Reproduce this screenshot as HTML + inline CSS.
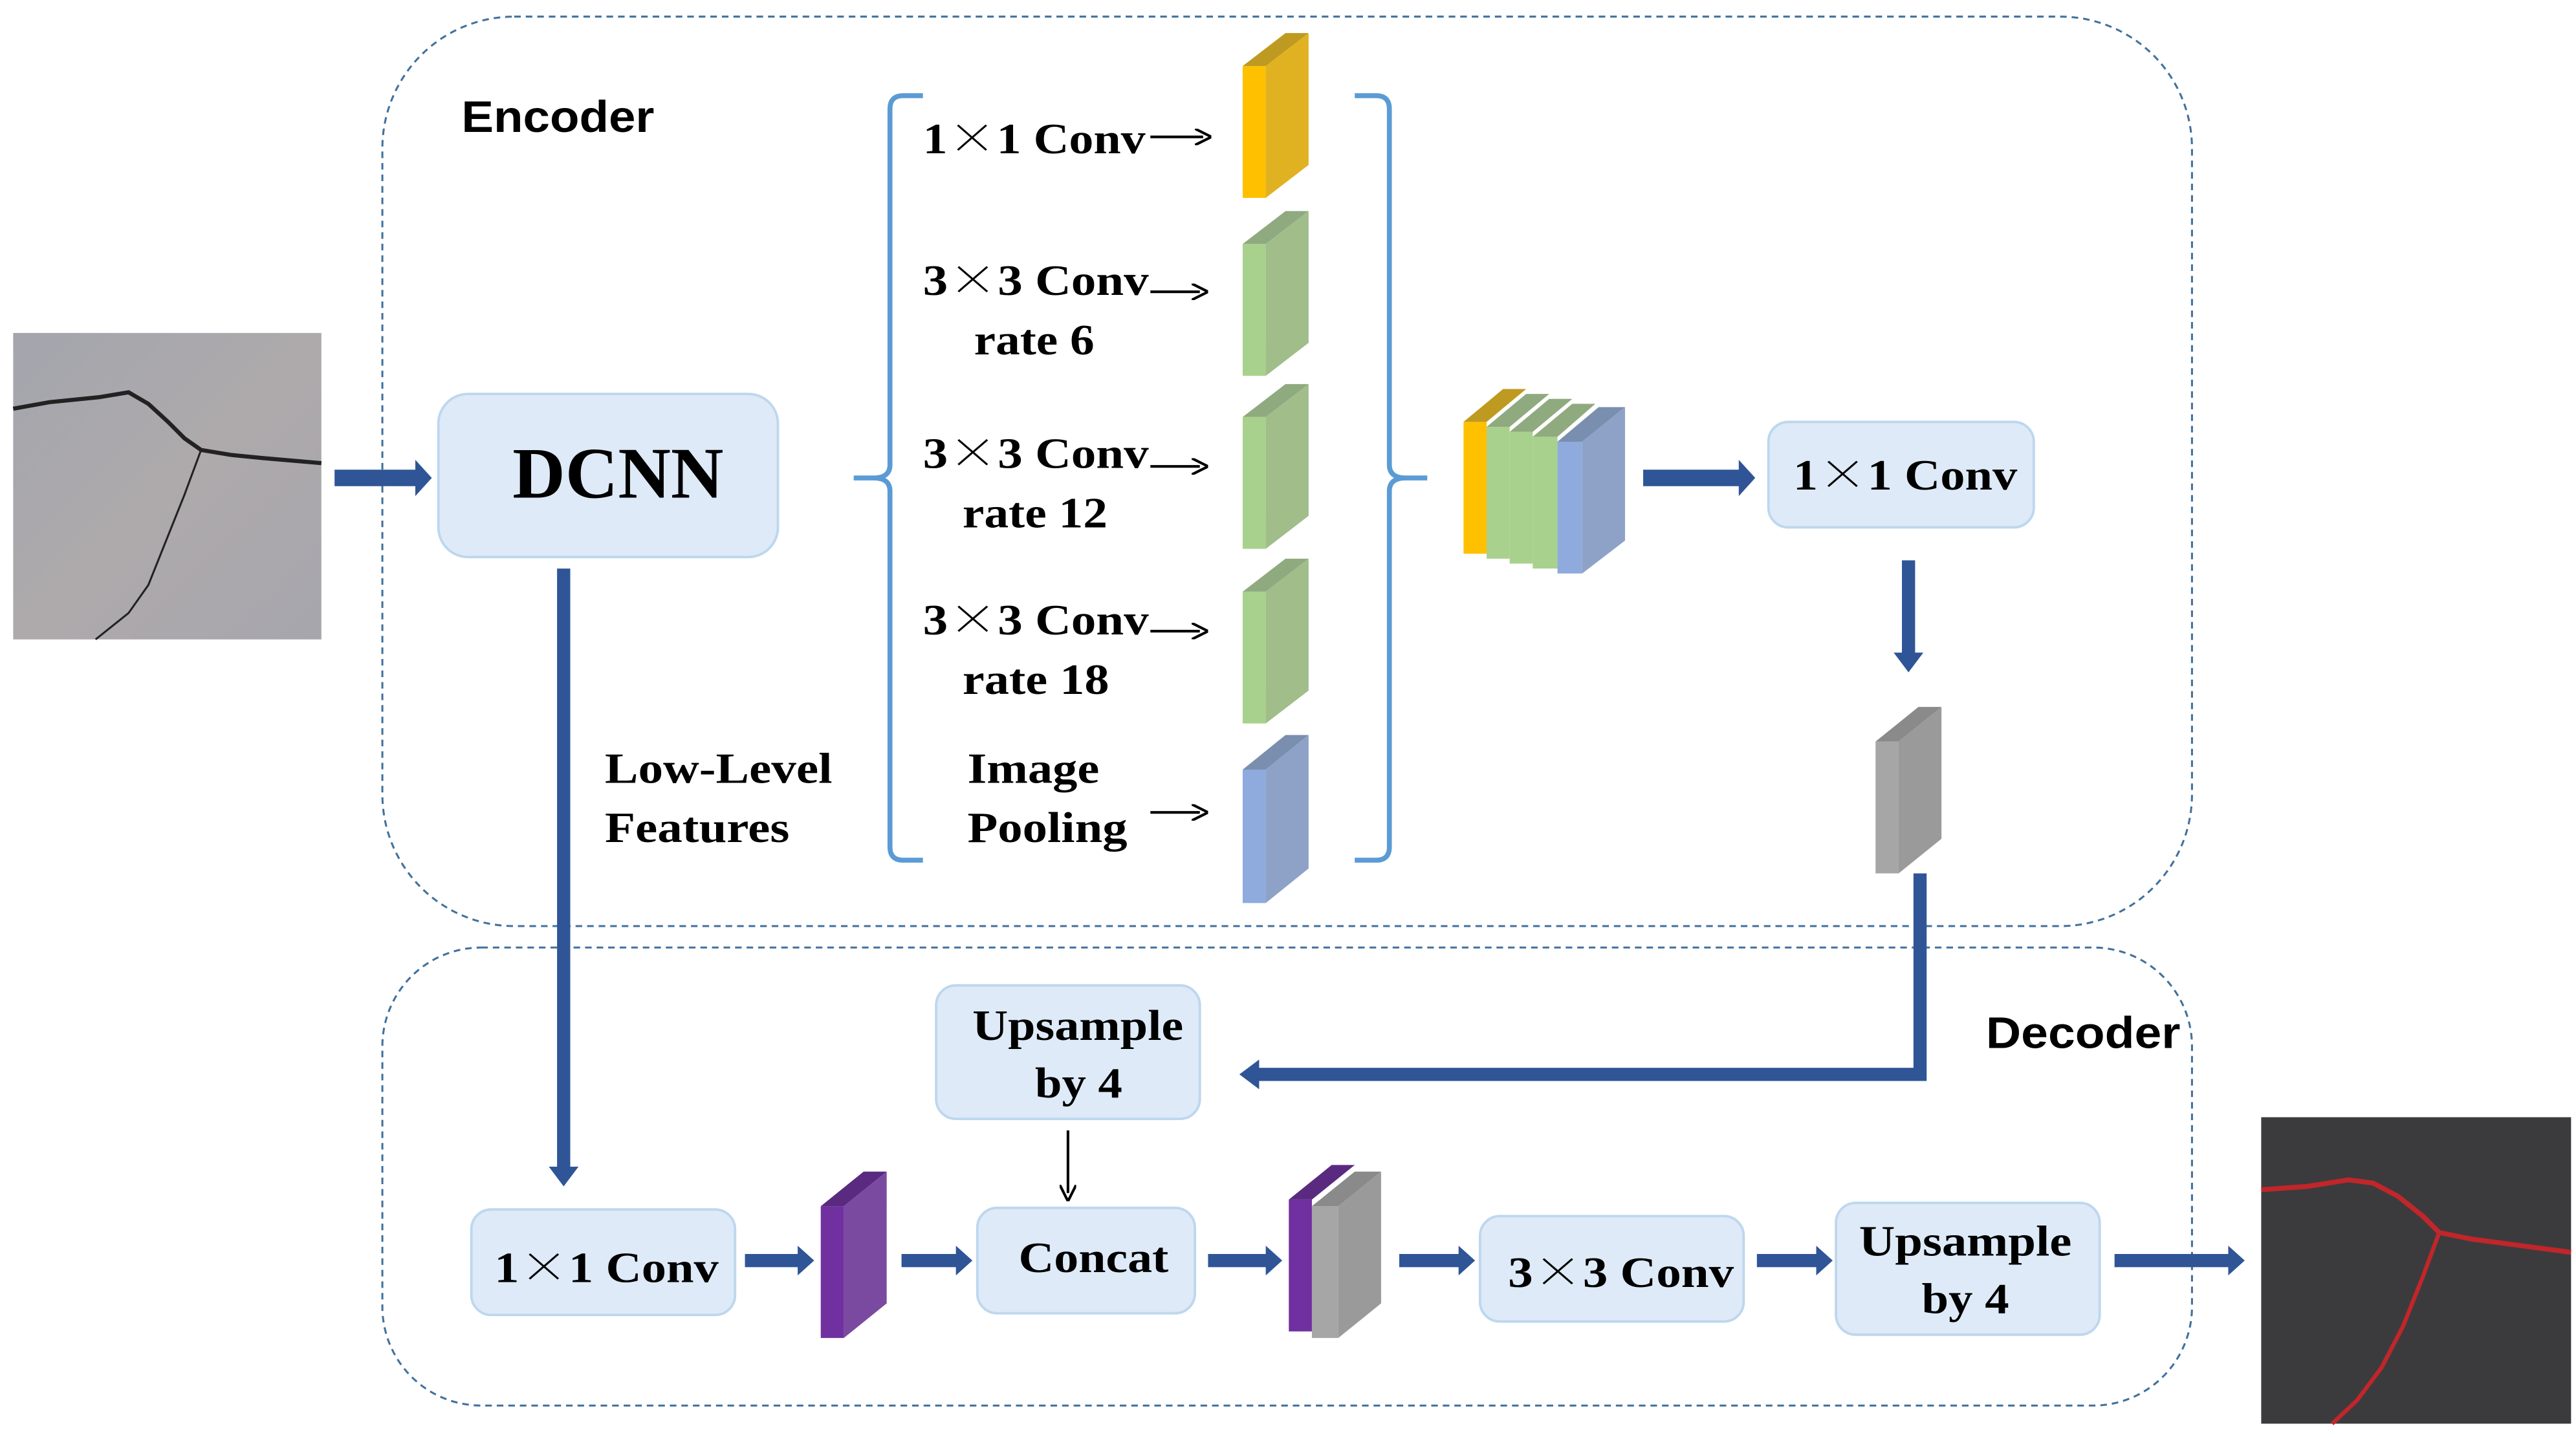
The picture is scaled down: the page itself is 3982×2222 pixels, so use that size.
<!DOCTYPE html>
<html><head><meta charset="utf-8"><style>
html,body{margin:0;padding:0;background:#fff;}
svg{display:block;}
.t{font-family:"Liberation Serif","Noto Serif CJK SC",serif;font-weight:bold;fill:#000;}
.s{font-family:"Liberation Sans",sans-serif;font-weight:bold;fill:#000;}
.x{font-family:"Noto Serif CJK SC",serif;font-weight:normal;}
.box{fill:#deeaf7;stroke:#bdd7ee;stroke-width:1.5;}
</style></head><body>
<svg width="3982" height="2222" viewBox="0 0 1563 872" xmlns="http://www.w3.org/2000/svg">
<defs>
<marker id="ah" markerWidth="10" markerHeight="10" refX="5" refY="5" orient="auto" markerUnits="userSpaceOnUse"><path d="M0,0 L10,5 L0,10" fill="none" stroke="#000" stroke-width="1.6"/></marker>
<linearGradient id="stone" x1="0" y1="0" x2="1" y2="1"><stop offset="0" stop-color="#a3a5ad"/><stop offset="0.5" stop-color="#aeaaac"/><stop offset="1" stop-color="#a7a6ad"/></linearGradient>
</defs>
<rect x="232" y="10" width="1098" height="552" rx="80" fill="none" stroke="#41719c" stroke-width="1.2" stroke-dasharray="4,3"/>
<rect x="232" y="575" width="1098" height="278" rx="60" fill="none" stroke="#41719c" stroke-width="1.2" stroke-dasharray="4,3"/>
<text x="280" y="80" class="s" font-size="27" textLength="117" lengthAdjust="spacingAndGlyphs">Encoder</text>
<text x="1205" y="636" class="s" font-size="27" textLength="118" lengthAdjust="spacingAndGlyphs">Decoder</text>
<rect x="8" y="202" width="187" height="186" fill="url(#stone)"/>
<path d="M8,248 L30,244 L60,241 L78,238 L90,245 L102,256 L112,266 L122,273 L140,276 L160,278 L195,281" fill="none" stroke="#222" stroke-width="2.5"/>
<path d="M122,273 L112,300 L100,330 L90,355 L78,372 L68,380 L58,388" fill="none" stroke="#222" stroke-width="1.2"/>
<path d="M203,285 L252,285 L252,279 L262,290 L252,301 L252,295 L203,295 Z" fill="#2f5597"/>
<rect x="266" y="239" width="206" height="99" rx="18" class="box"/>
<text x="311" y="302" class="t" font-size="44" textLength="128" lengthAdjust="spacingAndGlyphs">DCNN</text>
<rect x="338" y="345" width="8" height="365" fill="#2f5597"/>
<path d="M333,708 L351,708 L342,720 Z" fill="#2f5597"/>
<text x="367" y="475" class="t" font-size="26" textLength="138" lengthAdjust="spacingAndGlyphs">Low-Level</text>
<text x="367" y="511" class="t" font-size="26" textLength="112" lengthAdjust="spacingAndGlyphs">Features</text>
<path d="M560,58 L548,58 Q540,58 540,66 L540,282 Q540,290 530,290 L518,290 M530,290 Q540,290 540,298 L540,514 Q540,522 548,522 L560,522" fill="none" stroke="#5b9bd5" stroke-width="3"/>
<path d="M822,58 L835,58 Q843,58 843,66 L843,282 Q843,290 853,290 L866,290 M853,290 Q843,290 843,298 L843,514 Q843,522 835,522 L822,522" fill="none" stroke="#5b9bd5" stroke-width="3"/>
<g class="t" font-size="26">
<text x="560" y="93" textLength="135" lengthAdjust="spacingAndGlyphs">1<tspan class="x">×</tspan>1 Conv</text>
<text x="560" y="179" textLength="137" lengthAdjust="spacingAndGlyphs">3<tspan class="x">×</tspan>3 Conv</text>
<text x="591" y="215" textLength="73" lengthAdjust="spacingAndGlyphs">rate 6</text>
<text x="560" y="284" textLength="137" lengthAdjust="spacingAndGlyphs">3<tspan class="x">×</tspan>3 Conv</text>
<text x="584" y="320" textLength="88" lengthAdjust="spacingAndGlyphs">rate 12</text>
<text x="560" y="385" textLength="137" lengthAdjust="spacingAndGlyphs">3<tspan class="x">×</tspan>3 Conv</text>
<text x="584" y="421" textLength="89" lengthAdjust="spacingAndGlyphs">rate 18</text>
<text x="587" y="475" textLength="80" lengthAdjust="spacingAndGlyphs">Image</text>
<text x="587" y="511" textLength="97" lengthAdjust="spacingAndGlyphs">Pooling</text>
</g>
<g stroke="#000" stroke-width="1.6" marker-end="url(#ah)">
<line x1="698" y1="83" x2="730" y2="83"/>
<line x1="698" y1="177" x2="728" y2="177"/>
<line x1="698" y1="283" x2="728" y2="283"/>
<line x1="698" y1="383" x2="728" y2="383"/>
<line x1="698" y1="493" x2="728" y2="493"/>
</g>
<g>
<polygon points="754,40 768,40 768,120 754,120" fill="#ffc000"/><polygon points="754,40 780,20 794,20 768,40" fill="#bf9a20"/><polygon points="768,40 794,20 794,100 768,120" fill="#e0b222"/>
<polygon points="754,148 768,148 768,228 754,228" fill="#a9d18e"/><polygon points="754,148 780,128 794,128 768,148" fill="#8faa7f"/><polygon points="768,148 794,128 794,208 768,228" fill="#a0bd8a"/>
<polygon points="754,253 768,253 768,333 754,333" fill="#a9d18e"/><polygon points="754,253 780,233 794,233 768,253" fill="#8faa7f"/><polygon points="768,253 794,233 794,313 768,333" fill="#a0bd8a"/>
<polygon points="754,359 768,359 768,439 754,439" fill="#a9d18e"/><polygon points="754,359 780,339 794,339 768,359" fill="#8faa7f"/><polygon points="768,359 794,339 794,419 768,439" fill="#a0bd8a"/>
<polygon points="754,467 768,467 768,548 754,548" fill="#8faadc"/><polygon points="754,467 780,446 794,446 768,467" fill="#7a8fb0"/><polygon points="768,467 794,446 794,527 768,548" fill="#8ea2c8"/>
</g>
<g>
<polygon points="888,256 902,256 902,336 888,336" fill="#ffc000"/><polygon points="888,256 912,236 926,236 902,256" fill="#bf9a20"/>
<polygon points="902,259 916,259 916,339 902,339" fill="#a9d18e"/><polygon points="902,259 926,239 940,239 916,259" fill="#8faa7f"/>
<polygon points="916,262 930,262 930,342 916,342" fill="#a9d18e"/><polygon points="916,262 940,242 954,242 930,262" fill="#8faa7f"/>
<polygon points="930,265 945,265 945,345 930,345" fill="#a9d18e"/><polygon points="930,265 954,245 968,245 945,265" fill="#8faa7f"/>
<polygon points="945,268 960,268 960,348 945,348" fill="#8faadc"/><polygon points="945,268 970,247 986,247 960,268" fill="#7a8fb0"/>
<polygon points="960,268 986,247 986,328 960,348" fill="#8ea2c8"/>
</g>
<path d="M997,285 L1055,285 L1055,279 L1065,290 L1055,301 L1055,295 L997,295 Z" fill="#2f5597"/>
<rect x="1073" y="256" width="161" height="64" rx="12" class="box"/>
<text x="1088" y="297" class="t" font-size="26" textLength="136" lengthAdjust="spacingAndGlyphs">1<tspan class="x">×</tspan>1 Conv</text>
<rect x="1154" y="340" width="8" height="58" fill="#2f5597"/><path d="M1149,396 L1167,396 L1158,408 Z" fill="#2f5597"/>
<polygon points="1138,450 1152,450 1152,530 1138,530" fill="#a6a6a6"/><polygon points="1138,450 1164,429 1178,429 1152,450" fill="#8a8a8a"/><polygon points="1152,450 1178,429 1178,509 1152,530" fill="#9a9a9a"/>
<path d="M1165,530 L1165,652 L762,652" fill="none" stroke="#2f5597" stroke-width="8"/>
<path d="M764,643 L764,661 L752,652 Z" fill="#2f5597"/>
<rect x="568" y="598" width="160" height="81" rx="12" class="box"/>
<text x="590" y="631" class="t" font-size="26" textLength="128" lengthAdjust="spacingAndGlyphs">Upsample</text>
<text x="628" y="666" class="t" font-size="26" textLength="53" lengthAdjust="spacingAndGlyphs">by 4</text>
<line x1="648" y1="686" x2="648" y2="724" stroke="#000" stroke-width="1.6" marker-end="url(#ah)"/>
<rect x="286" y="734" width="160" height="64" rx="12" class="box"/>
<text x="300" y="778" class="t" font-size="26" textLength="136" lengthAdjust="spacingAndGlyphs">1<tspan class="x">×</tspan>1 Conv</text>
<path d="M452,761 L484,761 L484,756 L494,765 L484,774 L484,769 L452,769 Z" fill="#2f5597"/>
<polygon points="498,732 512,732 512,812 498,812" fill="#7030a0"/><polygon points="498,732 524,711 538,711 512,732" fill="#5a2a80"/><polygon points="512,732 538,711 538,791 512,812" fill="#7a4aa0"/>
<path d="M547,761 L580,761 L580,756 L590,765 L580,774 L580,769 L547,769 Z" fill="#2f5597"/>
<rect x="593" y="733" width="132" height="64" rx="12" class="box"/>
<text x="618" y="772" class="t" font-size="26" textLength="91" lengthAdjust="spacingAndGlyphs">Concat</text>
<path d="M733,761 L768,761 L768,756 L778,765 L768,774 L768,769 L733,769 Z" fill="#2f5597"/>
<polygon points="782,728 796,728 796,808 782,808" fill="#7030a0"/><polygon points="782,728 808,707 822,707 796,728" fill="#5a2a80"/>
<polygon points="796,732 812,732 812,812 796,812" fill="#a6a6a6"/><polygon points="796,732 822,711 838,711 812,732" fill="#8a8a8a"/><polygon points="812,732 838,711 838,791 812,812" fill="#9a9a9a"/>
<path d="M849,761 L885,761 L885,756 L895,765 L885,774 L885,769 L849,769 Z" fill="#2f5597"/>
<rect x="898" y="738" width="160" height="64" rx="12" class="box"/>
<text x="915" y="781" class="t" font-size="26" textLength="137" lengthAdjust="spacingAndGlyphs">3<tspan class="x">×</tspan>3 Conv</text>
<path d="M1066,761 L1102,761 L1102,756 L1112,765 L1102,774 L1102,769 L1066,769 Z" fill="#2f5597"/>
<rect x="1114" y="730" width="160" height="80" rx="12" class="box"/>
<text x="1128" y="762" class="t" font-size="26" textLength="129" lengthAdjust="spacingAndGlyphs">Upsample</text>
<text x="1166" y="797" class="t" font-size="26" textLength="53" lengthAdjust="spacingAndGlyphs">by 4</text>
<path d="M1283,761 L1352,761 L1352,756 L1362,765 L1352,774 L1352,769 L1283,769 Z" fill="#2f5597"/>
<rect x="1372" y="678" width="188" height="186" fill="#3b3b3d"/>
<path d="M1372,722 L1400,720 L1425,716 L1440,718 L1455,726 L1470,738 L1480,748 L1500,752 L1530,756 L1560,760" fill="none" stroke="#c0262a" stroke-width="3"/>
<path d="M1480,748 L1470,775 L1458,805 L1445,830 L1430,850 L1415,864" fill="none" stroke="#c0262a" stroke-width="2.5"/>
</svg>
</body></html>
